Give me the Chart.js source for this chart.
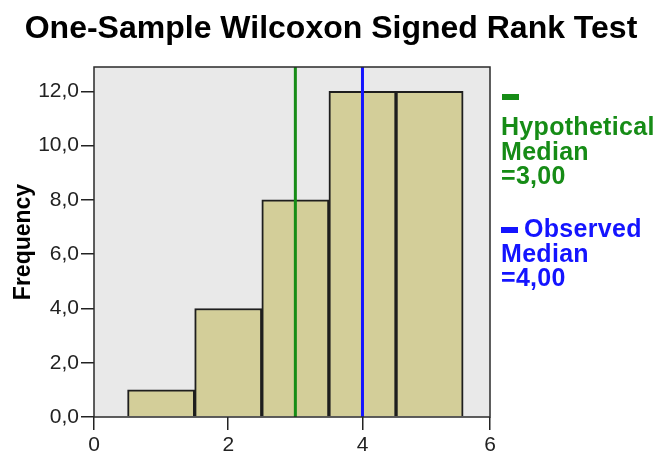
<!DOCTYPE html>
<html lang="en">
<head>
  <meta charset="UTF-8">
  <title>One-Sample Wilcoxon Signed Rank Test</title>
  <style>
    *{
      margin: 0;
      padding: 0;
      font-family: 'Liberation Sans', Arial, sans-serif;
    }
    body{
      background: white;
    }
    .chartBox{
      position: relative;
      width: 657px;
      height: 453px;
    }
    .chartTitle{
      position: absolute;
      left: 0;
      top: 11px;
      width: 662px;
      text-align: center;
      font-size: 32px;
      line-height: 32px;
      font-weight: bold;
      color: #000;
    }
    .legend{
      position: absolute;
      left: 501px;
      font-size: 25px;
      line-height: 24.5px;
      font-weight: bold;
      letter-spacing: 0.3px;
    }
    .dash{
      display: inline-block;
      width: 17px;
      height: 6px;
      vertical-align: middle;
      margin-right: 6px;
    }
    .greenDash{
      position: absolute;
      left: 502px;
      top: 94px;
      width: 17px;
      height: 6px;
      background: #168c16;
    }
  </style>
</head>
<body>
  <div class="chartBox">
    <canvas id="myChart" width="657" height="453"></canvas>
    <div class="chartTitle">One-Sample Wilcoxon Signed Rank Test</div>
    <div class="greenDash"></div>
    <div class="legend" style="top:114px;color:#168c16">Hypothetical<br>Median<br>=3,00</div>
    <div class="legend" style="top:216px;color:#1414ff">
      <span class="dash" style="background:#1414ff"></span>Observed<br>Median<br>=4,00
    </div>
  </div>
  <script src="https://cdn.jsdelivr.net/npm/chart.js"></script>
  <script>
    // histogram bins
    const binCenters = [1, 2, 3, 4, 5];
    const frequencies = [1, 4, 8, 12, 12];
    const hypotheticalMedian = 3;
    const observedMedian = 4;
    const xMax = 5.9;   // axis ends a little before 6, end tick is labelled 6
    const xTickValues = [0, 2, 4, xMax];
    const yTickValues = [0, 2, 4, 6, 8, 10, 12];
    const yMax = 12.9;

    Chart.defaults.font.family = "'Liberation Sans', Arial, sans-serif";

    const bars = binCenters.map((x, i) => ({x: x, y: frequencies[i]}));

    //plot background + frame
    const plotFrame = {
      id: 'plotFrame',
      beforeDatasetsDraw(chart){
        const {ctx, chartArea: a} = chart;
        ctx.save();
        ctx.fillStyle = '#e9e9e9';
        ctx.fillRect(a.left, a.top, a.right - a.left, a.bottom - a.top);
        ctx.restore();
      },
      afterDatasetsDraw(chart){
        const {ctx, chartArea: a} = chart;
        ctx.save();
        ctx.strokeStyle = '#2a2a2a';
        ctx.lineWidth = 1.5;
        ctx.strokeRect(a.left, a.top, a.right - a.left, a.bottom - a.top);
        ctx.restore();
      }
    };

    const data = {
      datasets: [
        {
          type: 'line',
          data: [{x: hypotheticalMedian, y: 0}, {x: hypotheticalMedian, y: yMax}],
          borderColor: '#168c16',
          borderWidth: 3,
          pointRadius: 0,
          order: 1
        },
        {
          type: 'line',
          data: [{x: observedMedian, y: 0}, {x: observedMedian, y: yMax}],
          borderColor: '#1414ff',
          borderWidth: 3,
          pointRadius: 0,
          order: 1
        },
        {
          type: 'bar',
          data: bars,
          backgroundColor: '#d3ce99',
          borderColor: '#1e1e1e',
          borderWidth: 2,
          barPercentage: 1,
          categoryPercentage: 1,
          order: 2
        }
      ]
    };

    const config = {
      type: 'bar',
      data,
      plugins: [plotFrame],
      options: {
        responsive: false,
        animation: false,
        layout: {
          padding: {left: 0, right: 167, top: 67, bottom: 0}
        },
        plugins: {
          legend: {display: false},
          title: {display: false},
          tooltip: {enabled: false}
        },
        scales: {
          x: {
            type: 'linear',
            min: 0,
            max: xMax,
            offset: false,
            afterBuildTicks: s => { s.ticks = xTickValues.map(v => ({value: v})); },
            afterFit: s => { s.height = 36; },
            grid: {offset: false, drawOnChartArea: false, drawTicks: true, tickLength: 13, color: '#222', lineWidth: 1.5},
            border: {display: false},
            ticks: {
              color: '#222',
              padding: 3,
              maxRotation: 0,
              font: {size: 21},
              callback: v => String(Math.round(v))
            }
          },
          y: {
            min: 0,
            max: yMax,
            afterBuildTicks: s => { s.ticks = yTickValues.map(v => ({value: v})); },
            afterFit: s => { s.width = 94; },
            grid: {drawOnChartArea: false, drawTicks: true, tickLength: 13, color: '#222', lineWidth: 1.5},
            border: {display: false},
            ticks: {
              color: '#222',
              padding: 2,
              font: {size: 21},
              callback: v => v.toFixed(1).replace('.', ',')
            },
            title: {
              display: true,
              text: 'Frequency',
              color: '#000',
              font: {size: 23, weight: 'bold'},
              padding: {top: 10, bottom: 0}
            }
          }
        }
      }
    };

    const myChart = new Chart(document.getElementById('myChart'), config);
  </script>
</body>
</html>
